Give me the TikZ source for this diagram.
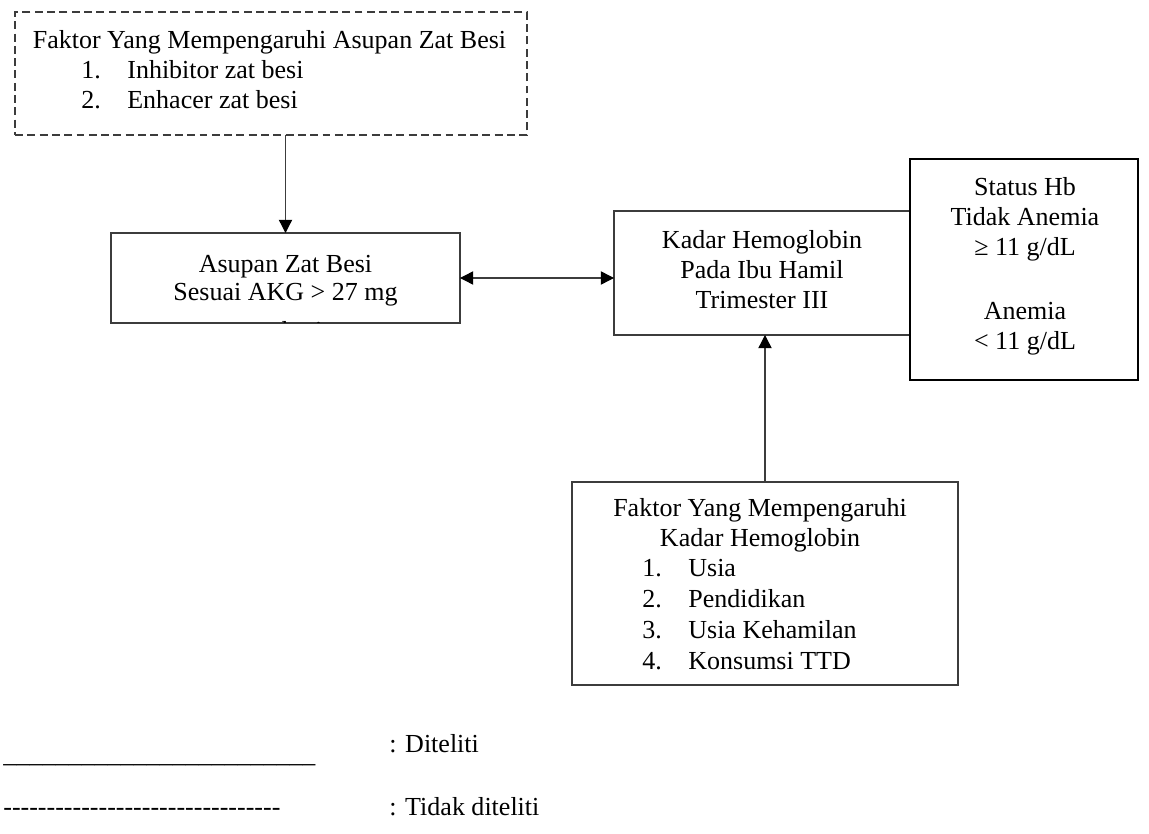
\documentclass[tikz,border=0pt]{standalone}
\usepackage{fontspec}
\setmainfont{Liberation Serif}
\usetikzlibrary{arrows.meta}
\definecolor{lc}{HTML}{3C3C3C}
\begin{document}
\begin{tikzpicture}[x=0.02cm,y=-0.02cm,
  font=\fontsize{14.8}{17}\selectfont,
  box/.style={draw=lc, line width=0.75pt, inner sep=0pt, outer sep=0pt},
  sz/.style 2 args={minimum width=#1*0.569055pt, minimum height=#2*0.569055pt},
  dbox/.style={box, dash pattern=on 4.5pt off 2.5pt},
  thickbox/.style={draw=black, line width=1.5pt, inner sep=0pt, outer sep=0pt},
  txt/.style={inner sep=0pt, anchor=base},
  txl/.style={inner sep=0pt, anchor=base west},
  tip/.tip={Triangle[length=7.5pt,width=7.5pt,color=black]},
  arr/.style={draw=lc, line width=0.75pt, -tip},
  darr/.style={draw=lc, line width=0.75pt, tip-tip},
]
\useasboundingbox (0,0) rectangle (1149,834);

% boxes
\node[dbox, sz={512}{123}] (fak1) at (271,73.5) {};
\node[box, sz={349}{90}] (asupan) at (285.5,278) {};
\node[box, sz={296}{124}] (kadar) at (762,273) {};
\node[thickbox, sz={228}{221}] (status) at (1024,269.5) {};
\node[box, sz={386}{203}] (fak2) at (765,583.5) {};

% dashed box text
\node[txt] (f1h) at (269.5,49) {Faktor Yang Mempengaruhi Asupan Zat Besi};
\node[txl] (f1n1) at (81,79) {1.};
\node[txl] (f1t1) at (127,79) {Inhibitor zat besi};
\node[txl] (f1n2) at (81,109) {2.};
\node[txl] (f1t2) at (127,109) {Enhacer zat besi};

% asupan text
\node[txt] (as1) at (285.5,272.5) {Asupan Zat Besi};
\node[txt] (as2) at (285.5,301) {Sesuai AKG {>} 27 mg};
\begin{scope}
  \clip (asupan.north west) rectangle (asupan.south east);
  \node[txt] (as3) at (285.5,339) {perhari};
\end{scope}

% kadar text
\node[txt] (k1) at (762,249) {Kadar Hemoglobin};
\node[txt] (k2) at (762,279) {Pada Ibu Hamil};
\node[txt] (k3) at (762,309) {Trimester III};

% status text
\node[txt] (s1) at (1025,196) {Status Hb};
\node[txt] (s2) at (1025,226) {Tidak Anemia};
\node[txt] (s3) at (1025,256) {≥ 11 g/dL};
\node[txt] (s4) at (1025,320) {Anemia};
\node[txt] (s5) at (1025,350) {{<} 11 g/dL};

% faktor 2 text
\node[txt] (g1) at (760,516) {Faktor Yang Mempengaruhi};
\node[txt] (g2) at (760,546) {Kadar Hemoglobin};
\node[txl] (g3n) at (642,576) {1.};
\node[txl] (g3) at (688,576) {Usia};
\node[txl] (g4n) at (642,607) {2.};
\node[txl] (g4) at (688,607) {Pendidikan};
\node[txl] (g5n) at (642,638) {3.};
\node[txl] (g5) at (688,638) {Usia Kehamilan};
\node[txl] (g6n) at (642,669) {4.};
\node[txl] (g6) at (688,669) {Konsumsi TTD};

% connectors
\draw[arr] (fak1.south -| asupan.north) -- (asupan.north);
\draw[darr] (asupan.east) -- (asupan.east -| kadar.west);
\draw[arr] (fak2.north) -- (fak2.north |- kadar.south);

% legend
\node[txl] (l1) at (3,762) {\_\_\_\_\_\_\_\_\_\_\_\_\_\_\_\_\_\_\_\_\_\_\_\_};
\node[txl] (l1t) at (389,752) {: Diteliti};
\node[txl] (l2) at (3,815) {-{}-{}-{}-{}-{}-{}-{}-{}-{}-{}-{}-{}-{}-{}-{}-{}-{}-{}-{}-{}-{}-{}-{}-{}-{}-{}-{}-{}-{}-{}-{}-{}};
\node[txl] (l2t) at (389,815) {: Tidak diteliti};
\end{tikzpicture}
\end{document}
